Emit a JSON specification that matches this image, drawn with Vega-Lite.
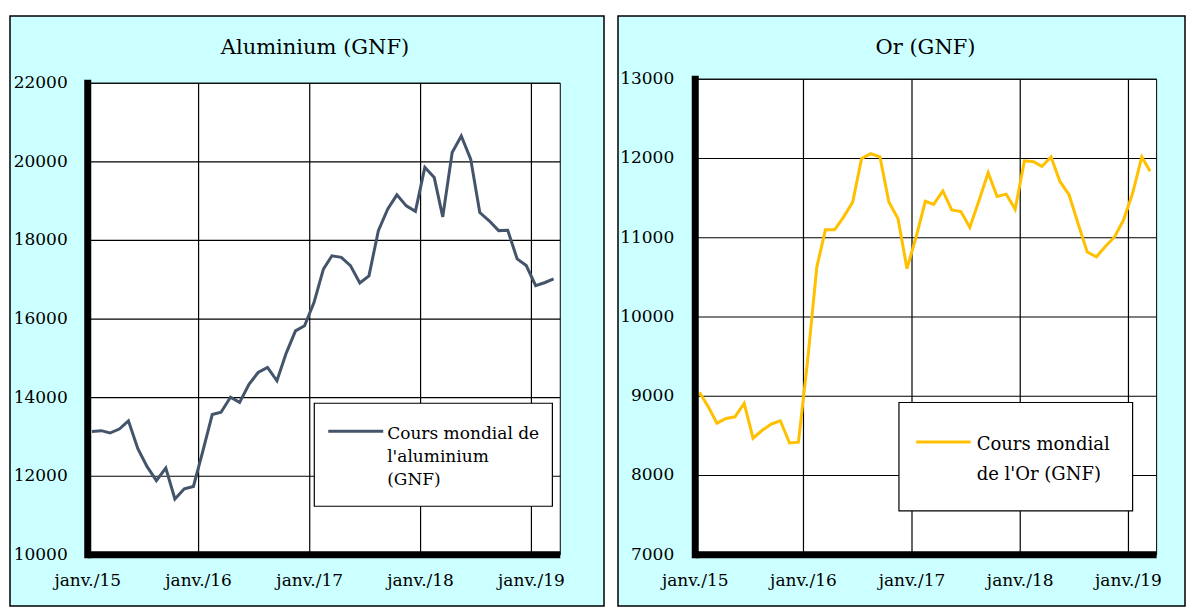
{
  "$schema": "https://vega.github.io/schema/vega-lite/v6.json",
  "background": "white",
  "padding": {"left": 9, "top": 15, "right": 0, "bottom": 0},
  "spacing": 12,
  "config": {
    "view": {"stroke": "black", "strokeWidth": 1.5, "fill": "#CCFFFF"},
    "font": "DejaVu Serif"
  },
  "datasets": {
    "alu": [
      {"date": "2015-01-15", "value": 13140}, {"date": "2015-02-15", "value": 13160}, {"date": "2015-03-15", "value": 13100},
      {"date": "2015-04-15", "value": 13200}, {"date": "2015-05-15", "value": 13410}, {"date": "2015-06-15", "value": 12700},
      {"date": "2015-07-15", "value": 12250}, {"date": "2015-08-15", "value": 11890}, {"date": "2015-09-15", "value": 12210},
      {"date": "2015-10-15", "value": 11420}, {"date": "2015-11-15", "value": 11680}, {"date": "2015-12-15", "value": 11740},
      {"date": "2016-01-15", "value": 12640}, {"date": "2016-02-15", "value": 13570}, {"date": "2016-03-15", "value": 13630},
      {"date": "2016-04-15", "value": 14010}, {"date": "2016-05-15", "value": 13880}, {"date": "2016-06-15", "value": 14340},
      {"date": "2016-07-15", "value": 14640}, {"date": "2016-08-15", "value": 14770}, {"date": "2016-09-15", "value": 14430},
      {"date": "2016-10-15", "value": 15120}, {"date": "2016-11-15", "value": 15700}, {"date": "2016-12-15", "value": 15830},
      {"date": "2017-01-15", "value": 16420}, {"date": "2017-02-15", "value": 17270}, {"date": "2017-03-15", "value": 17610},
      {"date": "2017-04-15", "value": 17570}, {"date": "2017-05-15", "value": 17360}, {"date": "2017-06-15", "value": 16920},
      {"date": "2017-07-15", "value": 17100}, {"date": "2017-08-15", "value": 18250}, {"date": "2017-09-15", "value": 18800},
      {"date": "2017-10-15", "value": 19160}, {"date": "2017-11-15", "value": 18880}, {"date": "2017-12-15", "value": 18740},
      {"date": "2018-01-15", "value": 19860}, {"date": "2018-02-15", "value": 19600}, {"date": "2018-03-15", "value": 18600},
      {"date": "2018-04-15", "value": 20240}, {"date": "2018-05-15", "value": 20660}, {"date": "2018-06-15", "value": 20070},
      {"date": "2018-07-15", "value": 18710}, {"date": "2018-08-15", "value": 18500}, {"date": "2018-09-15", "value": 18250},
      {"date": "2018-10-15", "value": 18260}, {"date": "2018-11-15", "value": 17530}, {"date": "2018-12-15", "value": 17360},
      {"date": "2019-01-15", "value": 16850}, {"date": "2019-02-15", "value": 16930}, {"date": "2019-03-15", "value": 17020}
    ],
    "or": [
      {"date": "2015-01-15", "value": 9050}, {"date": "2015-02-15", "value": 8860}, {"date": "2015-03-15", "value": 8660},
      {"date": "2015-04-15", "value": 8720}, {"date": "2015-05-15", "value": 8740}, {"date": "2015-06-15", "value": 8910},
      {"date": "2015-07-15", "value": 8470}, {"date": "2015-08-15", "value": 8570}, {"date": "2015-09-15", "value": 8650},
      {"date": "2015-10-15", "value": 8690}, {"date": "2015-11-15", "value": 8410}, {"date": "2015-12-15", "value": 8420},
      {"date": "2016-01-15", "value": 9450}, {"date": "2016-02-15", "value": 10630}, {"date": "2016-03-15", "value": 11100},
      {"date": "2016-04-15", "value": 11100}, {"date": "2016-05-15", "value": 11260}, {"date": "2016-06-15", "value": 11450},
      {"date": "2016-07-15", "value": 12000}, {"date": "2016-08-15", "value": 12060}, {"date": "2016-09-15", "value": 12020},
      {"date": "2016-10-15", "value": 11450}, {"date": "2016-11-15", "value": 11240}, {"date": "2016-12-15", "value": 10610},
      {"date": "2017-01-15", "value": 11010}, {"date": "2017-02-15", "value": 11460}, {"date": "2017-03-15", "value": 11420},
      {"date": "2017-04-15", "value": 11590}, {"date": "2017-05-15", "value": 11350}, {"date": "2017-06-15", "value": 11330},
      {"date": "2017-07-15", "value": 11130}, {"date": "2017-08-15", "value": 11470}, {"date": "2017-09-15", "value": 11820},
      {"date": "2017-10-15", "value": 11520}, {"date": "2017-11-15", "value": 11550}, {"date": "2017-12-15", "value": 11360},
      {"date": "2018-01-15", "value": 11970}, {"date": "2018-02-15", "value": 11960}, {"date": "2018-03-15", "value": 11900},
      {"date": "2018-04-15", "value": 12020}, {"date": "2018-05-15", "value": 11710}, {"date": "2018-06-15", "value": 11540},
      {"date": "2018-07-15", "value": 11180}, {"date": "2018-08-15", "value": 10820}, {"date": "2018-09-15", "value": 10760},
      {"date": "2018-10-15", "value": 10890}, {"date": "2018-11-15", "value": 11010}, {"date": "2018-12-15", "value": 11220},
      {"date": "2019-01-15", "value": 11560}, {"date": "2019-02-15", "value": 12020}, {"date": "2019-03-15", "value": 11840}
    ],
    "alu_ticks": [{"v": 10000}, {"v": 12000}, {"v": 14000}, {"v": 16000}, {"v": 18000}, {"v": 20000}, {"v": 22000}],
    "or_ticks": [{"v": 7000}, {"v": 8000}, {"v": 9000}, {"v": 10000}, {"v": 11000}, {"v": 12000}, {"v": 13000}],
    "years": [
      {"d": "2015-01-01", "label": "janv./15"}, {"d": "2016-01-01", "label": "janv./16"}, {"d": "2017-01-01", "label": "janv./17"},
      {"d": "2018-01-01", "label": "janv./18"}, {"d": "2019-01-01", "label": "janv./19"}
    ],
    "gridyears": [{"d": "2016-01-01"}, {"d": "2017-01-01"}, {"d": "2018-01-01"}, {"d": "2019-01-01"}]
  },
  "hconcat": [
    {
      "width": 594,
      "height": 590,
      "title": {"text": "Aluminium (GNF)", "frame": "group", "anchor": "middle", "offset": -42, "font": "DejaVu Serif", "fontSize": 21, "fontWeight": "normal", "color": "black", "dx": 8},
      "layer": [
        {
          "data": {"values": [{}]},
          "mark": {"type": "rect", "fill": "white", "stroke": "black", "strokeWidth": 1},
          "encoding": {
            "x": {"datum": {"year": 2015, "month": 1, "date": 1}, "type": "temporal", "axis": null,
                  "scale": {"domain": [{"year": 2014, "month": 4, "date": 20}, {"year": 2019, "month": 8, "date": 28}], "nice": false}},
            "x2": {"datum": {"year": 2019, "month": 4, "date": 6}},
            "y": {"datum": 10000, "type": "quantitative", "axis": null,
                  "scale": {"domain": [8698.5, 23711], "nice": false, "zero": false}},
            "y2": {"datum": 22000}
          }
        },
        {
          "data": {"name": "alu_ticks"},
          "transform": [{"filter": "datum.v > 10000"}],
          "mark": {"type": "rule", "color": "black", "strokeWidth": 1.2},
          "encoding": {
            "y": {"field": "v", "type": "quantitative", "axis": null},
            "x": {"datum": {"year": 2015, "month": 1, "date": 1}, "type": "temporal", "axis": null},
            "x2": {"datum": {"year": 2019, "month": 4, "date": 6}}
          }
        },
        {
          "data": {"name": "gridyears"},
          "mark": {"type": "rule", "color": "black", "strokeWidth": 1.2},
          "encoding": {
            "x": {"field": "d", "type": "temporal", "axis": null},
            "y": {"datum": 10000, "type": "quantitative", "axis": null},
            "y2": {"datum": 22000}
          }
        },
        {
          "data": {"name": "alu"},
          "mark": {"type": "line", "color": "#44546A", "strokeWidth": 3},
          "encoding": {
            "x": {"field": "date", "type": "temporal", "axis": null},
            "y": {"field": "value", "type": "quantitative", "axis": null}
          }
        },
        {
          "data": {"values": [{}]},
          "mark": {"type": "rule", "color": "black", "strokeWidth": 7, "strokeCap": "square"},
          "encoding": {
            "x": {"datum": {"year": 2015, "month": 1, "date": 1}, "type": "temporal", "axis": null},
            "y": {"datum": 10000, "type": "quantitative", "axis": null},
            "y2": {"datum": 22000}
          }
        },
        {
          "data": {"values": [{}]},
          "mark": {"type": "rule", "color": "black", "strokeWidth": 7},
          "encoding": {
            "y": {"datum": 10000, "type": "quantitative", "axis": null},
            "x": {"datum": {"year": 2015, "month": 1, "date": 1}, "type": "temporal", "axis": null},
            "x2": {"datum": {"year": 2019, "month": 4, "date": 6}}
          }
        },
        {
          "data": {"name": "alu_ticks"},
          "mark": {"type": "text", "align": "right", "baseline": "middle", "dx": -20, "font": "DejaVu Serif", "fontSize": 17, "color": "black"},
          "encoding": {
            "y": {"field": "v", "type": "quantitative", "axis": null},
            "x": {"datum": {"year": 2015, "month": 1, "date": 1}, "type": "temporal", "axis": null},
            "text": {"field": "v", "type": "quantitative", "format": "d"}
          }
        },
        {
          "data": {"name": "years"},
          "mark": {"type": "text", "align": "center", "baseline": "top", "dy": 18, "font": "DejaVu Serif", "fontSize": 17, "color": "black"},
          "encoding": {
            "x": {"field": "d", "type": "temporal", "axis": null},
            "y": {"datum": 10000, "type": "quantitative", "axis": null},
            "text": {"field": "label", "type": "nominal"}
          }
        },
        {
          "data": {"values": [{}]},
          "mark": {"type": "rect", "fill": "white", "stroke": "black", "strokeWidth": 1.2},
          "encoding": {
            "x": {"datum": {"year": 2017, "month": 1, "date": 16}, "type": "temporal", "axis": null},
            "x2": {"datum": {"year": 2019, "month": 3, "date": 11}},
            "y": {"datum": 13858, "type": "quantitative", "axis": null},
            "y2": {"datum": 11237}
          }
        },
        {
          "data": {"values": [{}]},
          "mark": {"type": "rule", "color": "#44546A", "strokeWidth": 3},
          "encoding": {
            "x": {"datum": {"year": 2017, "month": 3, "date": 3}, "type": "temporal", "axis": null},
            "x2": {"datum": {"year": 2017, "month": 8, "date": 31}},
            "y": {"datum": 13145, "type": "quantitative", "axis": null}
          }
        },
        {
          "data": {"values": [{}]},
          "mark": {"type": "text", "text": ["Cours mondial de", "l'aluminium", "(GNF)"], "align": "left", "baseline": "alphabetic",
                   "lineHeight": 23, "font": "DejaVu Serif", "fontSize": 17, "color": "black"},
          "encoding": {
            "x": {"datum": {"year": 2017, "month": 9, "date": 13}, "type": "temporal", "axis": null},
            "y": {"datum": 12959, "type": "quantitative", "axis": null}
          }
        }
      ]
    },
    {
      "width": 567,
      "height": 590,
      "title": {"text": "Or (GNF)", "frame": "group", "anchor": "middle", "offset": -42, "font": "DejaVu Serif", "fontSize": 21, "fontWeight": "normal", "color": "black", "dx": 24},
      "layer": [
        {
          "data": {"values": [{}]},
          "mark": {"type": "rect", "fill": "white", "stroke": "black", "strokeWidth": 1},
          "encoding": {
            "x": {"datum": {"year": 2015, "month": 1, "date": 1}, "type": "temporal", "axis": null,
                  "scale": {"domain": [{"year": 2014, "month": 4, "date": 15, "hours": 12}, {"year": 2019, "month": 7, "date": 10, "hours": 17}], "nice": false}},
            "x2": {"datum": {"year": 2019, "month": 4, "date": 6}},
            "y": {"datum": 7000, "type": "quantitative", "axis": null,
                  "scale": {"domain": [6353, 13798], "nice": false, "zero": false}},
            "y2": {"datum": 13000}
          }
        },
        {
          "data": {"name": "or_ticks"},
          "transform": [{"filter": "datum.v > 7000"}],
          "mark": {"type": "rule", "color": "black", "strokeWidth": 1.2},
          "encoding": {
            "y": {"field": "v", "type": "quantitative", "axis": null},
            "x": {"datum": {"year": 2015, "month": 1, "date": 1}, "type": "temporal", "axis": null},
            "x2": {"datum": {"year": 2019, "month": 4, "date": 6}}
          }
        },
        {
          "data": {"name": "gridyears"},
          "mark": {"type": "rule", "color": "black", "strokeWidth": 1.2},
          "encoding": {
            "x": {"field": "d", "type": "temporal", "axis": null},
            "y": {"datum": 7000, "type": "quantitative", "axis": null},
            "y2": {"datum": 13000}
          }
        },
        {
          "data": {"name": "or"},
          "mark": {"type": "line", "color": "#FFC000", "strokeWidth": 3},
          "encoding": {
            "x": {"field": "date", "type": "temporal", "axis": null},
            "y": {"field": "value", "type": "quantitative", "axis": null}
          }
        },
        {
          "data": {"values": [{}]},
          "mark": {"type": "rule", "color": "black", "strokeWidth": 7, "strokeCap": "square"},
          "encoding": {
            "x": {"datum": {"year": 2015, "month": 1, "date": 1}, "type": "temporal", "axis": null},
            "y": {"datum": 7000, "type": "quantitative", "axis": null},
            "y2": {"datum": 13000}
          }
        },
        {
          "data": {"values": [{}]},
          "mark": {"type": "rule", "color": "black", "strokeWidth": 7},
          "encoding": {
            "y": {"datum": 7000, "type": "quantitative", "axis": null},
            "x": {"datum": {"year": 2015, "month": 1, "date": 1}, "type": "temporal", "axis": null},
            "x2": {"datum": {"year": 2019, "month": 4, "date": 6}}
          }
        },
        {
          "data": {"name": "or_ticks"},
          "mark": {"type": "text", "align": "right", "baseline": "middle", "dx": -21, "font": "DejaVu Serif", "fontSize": 17, "color": "black"},
          "encoding": {
            "y": {"field": "v", "type": "quantitative", "axis": null},
            "x": {"datum": {"year": 2015, "month": 1, "date": 1}, "type": "temporal", "axis": null},
            "text": {"field": "v", "type": "quantitative", "format": "d"}
          }
        },
        {
          "data": {"name": "years"},
          "mark": {"type": "text", "align": "center", "baseline": "top", "dy": 18, "font": "DejaVu Serif", "fontSize": 17, "color": "black"},
          "encoding": {
            "x": {"field": "d", "type": "temporal", "axis": null},
            "y": {"datum": 7000, "type": "quantitative", "axis": null},
            "text": {"field": "label", "type": "nominal"}
          }
        },
        {
          "data": {"values": [{}]},
          "mark": {"type": "rect", "fill": "white", "stroke": "black", "strokeWidth": 1.2},
          "encoding": {
            "x": {"datum": {"year": 2016, "month": 11, "date": 18}, "type": "temporal", "axis": null},
            "x2": {"datum": {"year": 2019, "month": 1, "date": 15}},
            "y": {"datum": 8921, "type": "quantitative", "axis": null},
            "y2": {"datum": 7553}
          }
        },
        {
          "data": {"values": [{}]},
          "mark": {"type": "rule", "color": "#FFC000", "strokeWidth": 3},
          "encoding": {
            "x": {"datum": {"year": 2017, "month": 1, "date": 15}, "type": "temporal", "axis": null},
            "x2": {"datum": {"year": 2017, "month": 7, "date": 18}},
            "y": {"datum": 8423, "type": "quantitative", "axis": null}
          }
        },
        {
          "data": {"values": [{}]},
          "mark": {"type": "text", "text": ["Cours mondial", "de l'Or  (GNF)"], "align": "left", "baseline": "alphabetic",
                   "lineHeight": 30, "font": "DejaVu Serif", "fontSize": 18, "color": "black"},
          "encoding": {
            "x": {"datum": {"year": 2017, "month": 8, "date": 7}, "type": "temporal", "axis": null},
            "y": {"datum": 8319, "type": "quantitative", "axis": null}
          }
        }
      ]
    }
  ]
}
